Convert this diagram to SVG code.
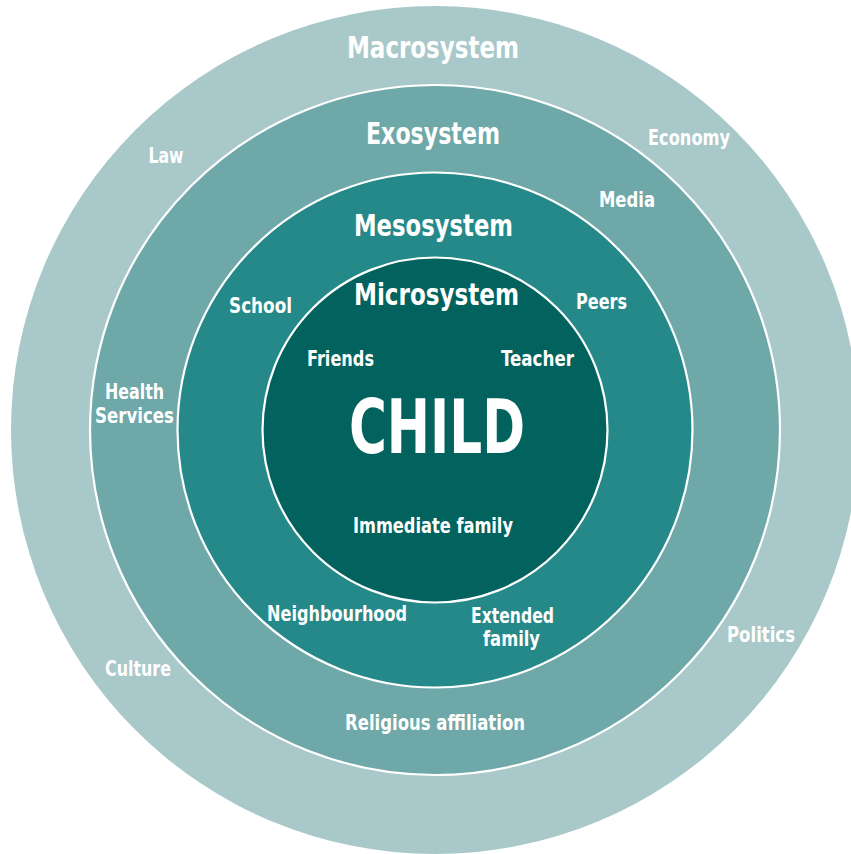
<svg xmlns="http://www.w3.org/2000/svg" width="851" height="854" viewBox="0 0 851 854">
<style>
  .ring { stroke: #ffffff; stroke-width: 2.2; }
  text { font-family: "Liberation Sans Narrow", "DejaVu Sans Condensed", "Liberation Sans", sans-serif; font-weight: bold; fill: #ffffff; text-anchor: middle; }
  .title { font-size: 31px; }
  .lbl { font-size: 22px; }
  .child { font-size: 74px; }
</style>
<rect width="851" height="854" fill="#ffffff"/>
<g id="macrosystem">
  <circle cx="435" cy="430" r="424" fill="#a9c8c9"/>
  <text class="title" x="433" y="58" textLength="172" lengthAdjust="spacingAndGlyphs">Macrosystem</text>
  <text class="lbl" x="166" y="163" textLength="35" lengthAdjust="spacingAndGlyphs">Law</text>
  <text class="lbl" x="689" y="145" textLength="82" lengthAdjust="spacingAndGlyphs">Economy</text>
  <text class="lbl" x="761" y="642" textLength="68" lengthAdjust="spacingAndGlyphs">Politics</text>
  <text class="lbl" x="138" y="676" textLength="66" lengthAdjust="spacingAndGlyphs">Culture</text>
</g>
<g id="exosystem">
  <circle class="ring" cx="435" cy="430" r="345" fill="#6fa8a8"/>
  <text class="title" x="433" y="144" textLength="134" lengthAdjust="spacingAndGlyphs">Exosystem</text>
  <text class="lbl" x="627" y="207" textLength="56" lengthAdjust="spacingAndGlyphs">Media</text>
  <text class="lbl" x="134.5" y="399" textLength="59" lengthAdjust="spacingAndGlyphs">Health</text>
  <text class="lbl" x="134.5" y="423" textLength="79" lengthAdjust="spacingAndGlyphs">Services</text>
  <text class="lbl" x="435" y="730" textLength="180" lengthAdjust="spacingAndGlyphs">Religious affiliation</text>
</g>
<g id="mesosystem">
  <circle class="ring" cx="435" cy="430" r="257.5" fill="#268989"/>
  <text class="title" x="433.5" y="236" textLength="159" lengthAdjust="spacingAndGlyphs">Mesosystem</text>
  <text class="lbl" x="260.5" y="313" textLength="63" lengthAdjust="spacingAndGlyphs">School</text>
  <text class="lbl" x="601.5" y="309" textLength="51" lengthAdjust="spacingAndGlyphs">Peers</text>
  <text class="lbl" x="337" y="621" textLength="140" lengthAdjust="spacingAndGlyphs">Neighbourhood</text>
  <text class="lbl" x="512.5" y="623" textLength="83" lengthAdjust="spacingAndGlyphs">Extended</text>
  <text class="lbl" x="511.5" y="646" textLength="57" lengthAdjust="spacingAndGlyphs">family</text>
</g>
<g id="microsystem">
  <circle class="ring" cx="435" cy="430" r="172.5" fill="#02625e"/>
  <text class="title" x="436.5" y="305" textLength="165" lengthAdjust="spacingAndGlyphs">Microsystem</text>
  <text class="lbl" x="340.5" y="366" textLength="67" lengthAdjust="spacingAndGlyphs">Friends</text>
  <text class="lbl" x="537.5" y="366" textLength="73" lengthAdjust="spacingAndGlyphs">Teacher</text>
  <text class="lbl" x="433" y="533" textLength="160" lengthAdjust="spacingAndGlyphs">Immediate family</text>
</g>
<g id="child">
  <text class="child" x="437" y="453" textLength="176" lengthAdjust="spacingAndGlyphs">CHILD</text>
</g>
<g id="connectors"></g>
</svg>
